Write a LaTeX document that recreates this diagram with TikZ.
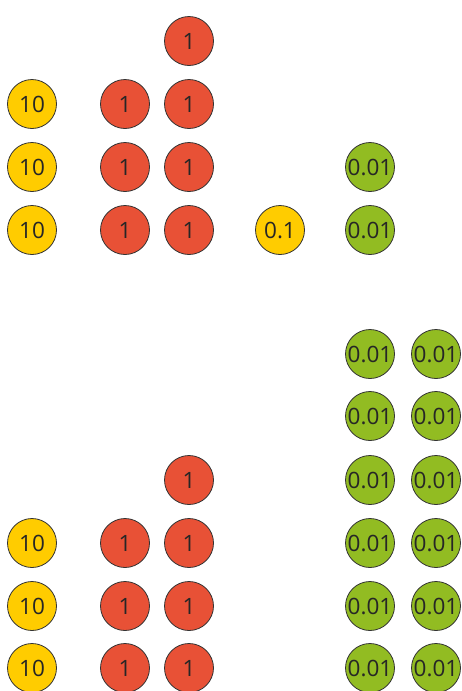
\documentclass[tikz,border=0pt]{standalone}
\usepackage{fontspec}
\setmainfont{Open Sans}
\usepackage{xcolor}
\definecolor{coinyellow}{RGB}{255,204,0}
\definecolor{coinred}{RGB}{232,81,54}
\definecolor{coingreen}{RGB}{146,188,34}
\definecolor{coinline}{RGB}{51,51,51}

\begin{document}
\begin{tikzpicture}[x=1pt, y=-1pt,
    coin/.style={draw=coinline, line width=0.8pt, circle, minimum size=49pt, inner sep=0pt, font=\fontsize{22.5}{22.5}\selectfont, text=black!85},
    ten/.style={coin, fill=coinyellow},
    one/.style={coin, fill=coinred},
    tenth/.style={coin, fill=coinyellow},
    hundredth/.style={coin, fill=coingreen}]
    \useasboundingbox (0,0) rectangle (462,691);

    % Top: tens
    \node[ten] (topTenA) at (32,104) {10};
    \node[ten] (topTenB) at (32,167) {10};
    \node[ten] (topTenC) at (32,230) {10};

    % Top: ones
    \node[one] (topOneA) at (125,104) {1};
    \node[one] (topOneB) at (125,167) {1};
    \node[one] (topOneC) at (125,230) {1};
    \node[one] (topOneD) at (189,41) {1};
    \node[one] (topOneE) at (189,104) {1};
    \node[one] (topOneF) at (189,167) {1};
    \node[one] (topOneG) at (189,230) {1};

    % Top: tenths and hundredths
    \node[tenth] (topTenthA) at (280,230) {0.1};
    \node[hundredth] (topHundA) at (370,167) {0.01};
    \node[hundredth] (topHundB) at (370,230) {0.01};

    % Bottom: tens
    \node[ten] (botTenA) at (32,543) {10};
    \node[ten] (botTenB) at (32,606) {10};
    \node[ten] (botTenC) at (32,668) {10};

    % Bottom: ones
    \node[one] (botOneA) at (125,543) {1};
    \node[one] (botOneB) at (125,606) {1};
    \node[one] (botOneC) at (125,668) {1};
    \node[one] (botOneD) at (189,480) {1};
    \node[one] (botOneE) at (189,543) {1};
    \node[one] (botOneF) at (189,606) {1};
    \node[one] (botOneG) at (189,668) {1};

    % Bottom: hundredths
    \node[hundredth] (botHundA) at (370,354) {0.01};
    \node[hundredth] (botHundB) at (370,416) {0.01};
    \node[hundredth] (botHundC) at (370,480) {0.01};
    \node[hundredth] (botHundD) at (370,543) {0.01};
    \node[hundredth] (botHundE) at (370,606) {0.01};
    \node[hundredth] (botHundF) at (370,668) {0.01};
    \node[hundredth] (botHundG) at (436,354) {0.01};
    \node[hundredth] (botHundH) at (436,416) {0.01};
    \node[hundredth] (botHundI) at (436,480) {0.01};
    \node[hundredth] (botHundJ) at (436,543) {0.01};
    \node[hundredth] (botHundK) at (436,606) {0.01};
    \node[hundredth] (botHundL) at (436,668) {0.01};
\end{tikzpicture}
\end{document}
